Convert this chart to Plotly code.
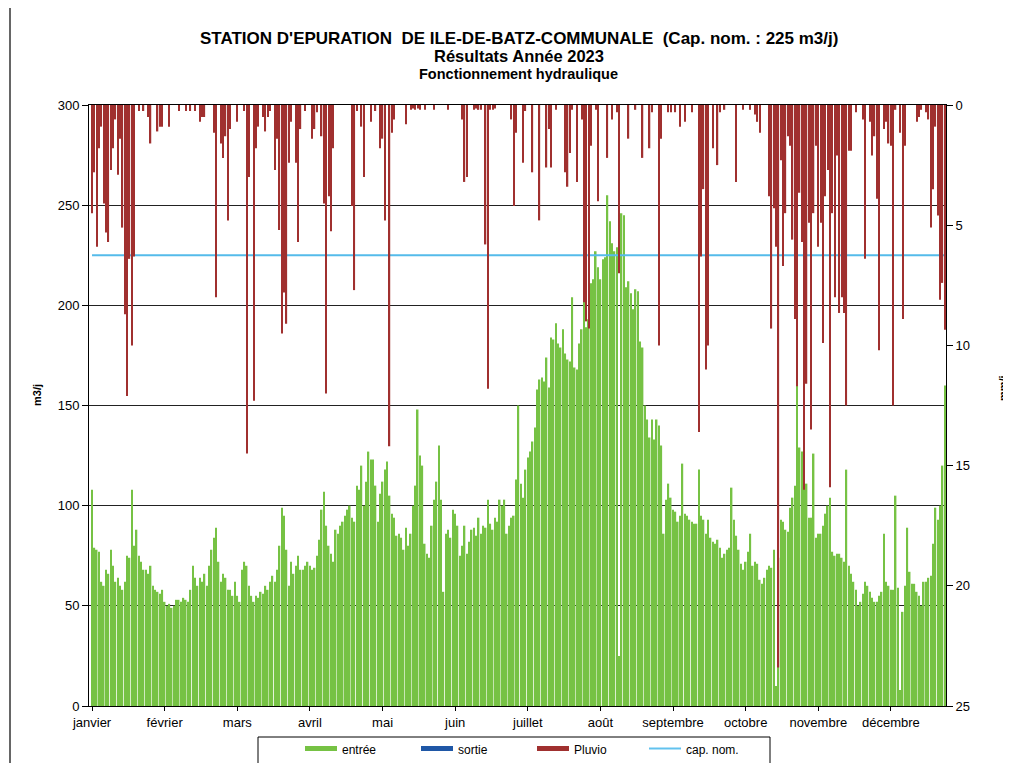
import plotly.graph_objects as go
import pandas as pd

# ---- entrée (m3/j), daily values per month ----
entree_jan = [108,79,78,77,62,60,68,66,78,70,62,64,60,58,62,75,74,108,80,88,75,72,68,68,66,70,60,58,57,56,58]
entree_feb = [52,50,51,49,50,53,53,52,54,53,52,58,70,64,60,64,62,66,60,70,78,84,89,72,62,66,64,58]
entree_mar = [58,55,62,55,52,68,72,70,60,55,52,55,54,57,56,60,58,62,65,62,68,80,99,95,78,60,72,66,70,75,68]
entree_apr = [68,70,72,70,68,69,75,83,98,107,90,80,76,72,88,86,90,92,95,98,100,94,92,110,108,120,100,112,127,123]
entree_may = [123,110,92,106,112,118,122,105,96,94,85,86,84,78,89,80,86,100,110,148,125,120,81,76,74,90,103,112,130,103,57]
entree_jun = [86,88,84,98,96,90,75,80,90,76,82,88,89,85,94,86,90,89,103,91,88,94,92,103,100,103,86,90,94,95]
entree_jul = [113,150,111,104,118,124,127,132,139,158,163,164,162,174,159,184,183,191,181,179,188,176,173,172,204,169,168,181,188,208,189]
entree_aug = [193,211,213,227,219,213,223,224,255,242,231,227,229,25,246,245,209,212,206,198,208,207,182,179,150,143,134,143,133,143,140]
entree_sep = [130,86,103,111,104,98,97,92,95,121,96,95,93,92,91,91,118,95,93,86,93,84,82,81,83,79,74,76,78,79]
entree_oct = [109,93,85,78,71,68,72,77,86,70,72,71,63,61,64,68,70,69,78,10,74,93,92,88,87,99,104,110,164,129,127]
entree_nov = [117,111,94,94,126,84,86,86,90,96,100,104,77,75,76,76,74,72,118,70,66,62,58,50,52,56,62,60,57,54]
entree_dec = [52,52,55,57,86,62,60,58,58,105,59,8,47,60,89,67,61,61,57,55,50,62,62,64,65,81,99,93,100,120,160]

# ---- Pluvio (mm/j), daily values per month ----
pluvio_jan = [4.5,2.8,5.9,1.8,0.9,4.1,5.3,5.7,2.7,1.8,0.6,2.9,1.4,5.1,8.7,12.1,6.4,10.0,6.3,0,0.25,0,0.25,0,0.5,1.6,0,0,1.1,0.9,0.9]
pluvio_feb = [0,0,0.9,0,0,0,0.25,0,0,0.25,0,0.25,0,0.25,0,0.7,0.5,0.5,0,0,0,1.15,8.0,0,1.6,2.2,1.3,4.8]
pluvio_mar = [1.0,0,0,0.7,0,0,0.25,14.5,3.0,0,12.3,1.8,0.9,0,0.5,1.1,0.5,0.25,0,2.7,1.4,5.2,9.5,7.8,9.1,2.4,0.7,0,2.4,5.7,1.0]
pluvio_apr = [0,0.25,0,0,1.4,1.0,0.3,0,1.3,4.1,12.0,3.8,5.25,1.8,0,0,0,0,0,0,0,4.2,7.7,0.25,0,0.9,3.0,0,0,0.7]
pluvio_may = [0,0.25,0,1.8,1.4,4.8,0,14.2,1.15,0.6,0,0,0,0,0.8,0,0.2,0.15,0.2,0.15,0.2,0,0.2,0,0,0,0.2,0,0,0,0]
pluvio_jun = [0,0.2,0,0,0,0,0,0.6,3.2,3.0,0,0,0.2,0.15,0.2,0.2,0,5.8,11.8,0.2,0.2,0.15,0,0,0,0,0,0,0.6,4.2]
pluvio_jul = [1.15,0,0,2.4,0.25,0,0,2.8,0,0,4.8,0,0,2.6,1.0,2.6,0,0.2,0,0,0,2.8,3.4,2.0,0.2,0,3.2,0,0.6,8.2,9.0]
pluvio_aug = [9.3,1.7,0,0.2,4.0,0,0,0,2.2,0,0.6,0,0.3,7.0,0,0,0,1.4,0,0,0.2,0,0,2.2,0,0,1.8,0.3,0,0,10.0]
pluvio_sep = [1.4,0,0,0.3,0.3,0,0.3,0,0.9,0,0.7,0,0,0.3,0,0,13.6,6.3,3.5,11.0,10.0,0,1.8,0,2.5,0.3,0,0.2,0,0]
pluvio_oct = [0,0,3.2,0,0,0.2,0,0,0.2,0,0.4,0.7,1.15,0,0,0,3.8,9.3,4.3,5.9,23.4,2.3,6.7,4.5,1.3,1.7,5.6,8.9,11.7,3.65,5.7]
pluvio_nov = [16.0,11.6,4.9,13.5,4.5,1.7,5.9,4.9,9.9,3.8,2.7,15.9,4.5,8.0,2.1,8.65,8.0,8.65,12.5,1.9,1.9,0,0.3,0,0,0.6,6.4,0,0.7,2.1]
pluvio_dec = [1.3,3.9,10.2,0,1.0,0.7,1.6,1.7,12.5,0.2,0,1.15,8.9,1.7,0,0,0,0,0.7,0.5,0.2,0,0.3,0.6,5.1,3.5,0.9,4.6,8.1,7.4,9.35]

sortie = []          # no outflow values shown on the chart
cap_nom = 225        # nominal capacity, m3/j

month_labels = ["janvier", "février", "mars", "avril", "mai", "juin", "juillet",
                "août", "septembre", "octobre", "novembre", "décembre"]
series_names = ["entrée", "sortie", "Pluvio", "cap. nom."]
series_colors = ["#76C244", "#1F57A6", "#A0302F", "#62C2EE"]

entree = (entree_jan + entree_feb + entree_mar + entree_apr + entree_may + entree_jun +
          entree_jul + entree_aug + entree_sep + entree_oct + entree_nov + entree_dec)
pluvio = (pluvio_jan + pluvio_feb + pluvio_mar + pluvio_apr + pluvio_may + pluvio_jun +
          pluvio_jul + pluvio_aug + pluvio_sep + pluvio_oct + pluvio_nov + pluvio_dec)

dates = pd.date_range("2023-01-01", periods=len(entree), freq="D")
# Excel category axis labelled every 31 days
tick_dates = [dates[i] for i in range(0, len(dates), 31)]

FONT = "Liberation Sans, Arial, sans-serif"
DAY_MS = 86400000

# The page adds an 8px body margin, so the figure is 8px smaller than the window.
W, H = 1003, 755
ML, MR, MT, MB = 81, 65, 97, 57
PW, PH = W - ML - MR, H - MT - MB


def px(xpage):  # page x pixel -> paper x
    return (xpage - 8 - ML) / PW


def py(ypage):  # page y pixel -> paper y
    return (H - MB - (ypage - 8)) / PH


fig = go.Figure()
fig.add_trace(go.Bar(x=dates, y=entree, name=series_names[0], width=0.66 * DAY_MS,
                     marker=dict(color=series_colors[0], line_width=0), yaxis="y"))
fig.add_trace(go.Bar(x=dates[:len(sortie)], y=sortie, name=series_names[1],
                     marker=dict(color=series_colors[1], line_width=0), yaxis="y"))
fig.add_trace(go.Bar(x=dates, y=pluvio, name=series_names[2], width=0.55 * DAY_MS,
                     marker=dict(color=series_colors[2], line_width=0), yaxis="y2"))
fig.add_trace(go.Scatter(x=dates, y=[cap_nom] * len(dates), name=series_names[3], mode="lines",
                         line=dict(color="#55BBEA", width=2), yaxis="y"))

fig.update_layout(
    width=W, height=H,
    margin=dict(l=ML, r=MR, t=MT, b=MB),
    paper_bgcolor="white", plot_bgcolor="white",
    font=dict(family=FONT, size=13, color="black"),
    barmode="overlay",
    showlegend=False,
    xaxis=dict(
        type="date",
        range=[dates[0] - pd.Timedelta(hours=31), dates[-1] + pd.Timedelta(hours=12)],
        tickvals=tick_dates, ticktext=month_labels[:len(tick_dates)],
        ticks="outside", ticklen=4, tickcolor="black",
        showgrid=False, showline=True, linecolor="black", linewidth=1, mirror=True,
        tickfont=dict(size=13),
    ),
    yaxis=dict(
        range=[0, 300], tickvals=[0, 50, 100, 150, 200, 250, 300],
        ticks="outside", ticklen=6, tickcolor="black",
        showgrid=True, gridcolor="#222222", gridwidth=1,
        showline=True, linecolor="black", linewidth=1,
        zeroline=False, tickfont=dict(size=13),
    ),
    yaxis2=dict(
        overlaying="y", side="right", range=[25, 0],
        tickvals=[0, 5, 10, 15, 20, 25],
        ticks="outside", ticklen=6, tickcolor="black",
        showgrid=False, showline=True, linecolor="black", linewidth=1,
        zeroline=False, tickfont=dict(size=13),
    ),
)

# ---- title ----
title_lines = [
    ("STATION D'EPURATION&nbsp; DE ILE-DE-BATZ-COMMUNALE&nbsp; (Cap. nom. : 225 m3/j)", 38, 17),
    ("Résultats Année 2023", 56, 16.5),
    ("Fonctionnement hydraulique", 74, 14.5),
]
for txt, ypix, fs in title_lines:
    fig.add_annotation(text="<b>" + txt + "</b>", xref="paper", yref="paper",
                       x=px(519), y=py(ypix), xanchor="center", yanchor="middle",
                       showarrow=False, font=dict(size=fs, family=FONT))

# ---- axis titles ----
fig.add_annotation(text="<b>m3/j</b>", xref="paper", yref="paper",
                   x=px(37), y=py(395), textangle=-90, xanchor="center", yanchor="middle",
                   showarrow=False, font=dict(size=11, family=FONT))
fig.add_annotation(text="<b>mm/j</b>", xref="paper", yref="paper",
                   x=px(1003), y=py(388), textangle=-90, xanchor="center", yanchor="middle",
                   showarrow=False, font=dict(size=11, family=FONT))

# ---- legend box (drawn like the Excel legend) ----
fig.add_shape(type="rect", xref="paper", yref="paper",
              x0=px(258), x1=px(770), y0=py(737), y1=py(775),
              line=dict(color="black", width=1), fillcolor="white", layer="above")
legend_x = [305, 421, 537, 649]
for i, (name, col) in enumerate(zip(series_names, series_colors)):
    x0 = legend_x[i]
    if i < 3:
        fig.add_shape(type="rect", xref="paper", yref="paper",
                      x0=px(x0), x1=px(x0 + 32), y0=py(751), y1=py(746),
                      line=dict(width=0), fillcolor=col, layer="above")
    else:
        fig.add_shape(type="line", xref="paper", yref="paper",
                      x0=px(x0), x1=px(x0 + 32), y0=py(748.5), y1=py(748.5),
                      line=dict(color=col, width=2), layer="above")
    fig.add_annotation(text=name, xref="paper", yref="paper",
                       x=px(x0 + 35), y=py(750), xanchor="left", yanchor="middle",
                       showarrow=False, font=dict(size=12, family=FONT))

# ---- scanned page border on the left ----
fig.add_shape(type="line", xref="paper", yref="paper",
              x0=px(10), x1=px(10), y0=py(0), y1=py(770),
              line=dict(color="#333333", width=1.5))

fig.write_html("out.html")
